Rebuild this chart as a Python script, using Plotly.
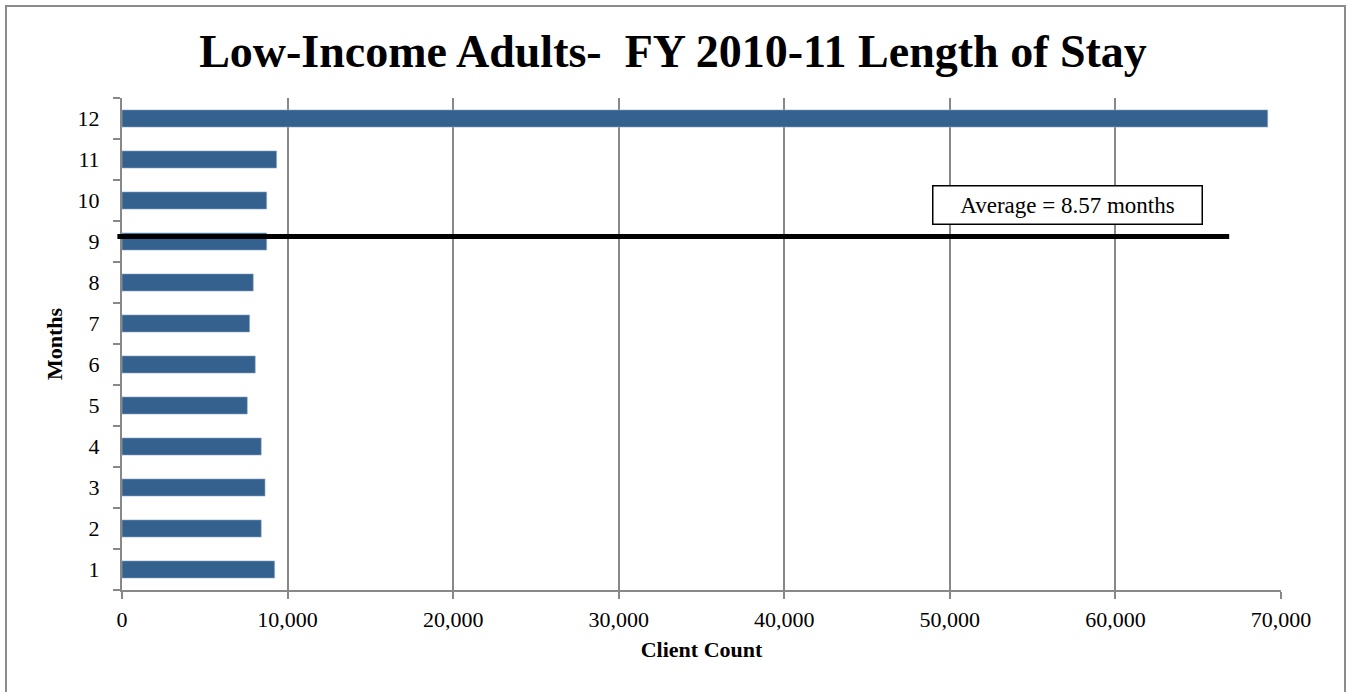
import plotly.graph_objects as go

# Months of stay and client counts
months = [1, 2, 3, 4, 5, 6, 7, 8, 9, 10, 11, 12]
client_counts = [9220, 8410, 8640, 8410, 7570, 8050, 7710, 7930, 8740, 8740, 9340, 69200]
x_ticks = [0, 10000, 20000, 30000, 40000, 50000, 60000, 70000]
x_tick_labels = ["0", "10,000", "20,000", "30,000", "40,000", "50,000", "60,000", "70,000"]
average_label = "Average = 8.57 months"

SERIF = "Liberation Serif, Times New Roman, serif"
GRAY = "#888888"
BAR = "#35618f"

fig = go.Figure(
    go.Bar(
        x=client_counts,
        y=months,
        orientation="h",
        width=0.42,
        marker=dict(color=BAR, line=dict(color="#9db3cf", width=0.6)),
        hoverinfo="x+y",
    )
)

fig.update_layout(
    width=1346,
    height=692,
    margin=dict(l=122, r=65, t=98, b=102),
    paper_bgcolor="white",
    plot_bgcolor="white",
    showlegend=False,
    title=dict(
        text="<b>Low-Income Adults-  FY 2010-11 Length of Stay</b>",
        x=0.5,
        xanchor="center",
        y=0.927,
        yanchor="middle",
        font=dict(family=SERIF, size=46, color="black"),
    ),
    xaxis=dict(
        range=[0, 70000],
        tickvals=x_ticks,
        ticktext=x_tick_labels,
        showgrid=True,
        gridcolor=GRAY,
        gridwidth=2,
        zeroline=False,
        showline=True,
        linecolor=GRAY,
        linewidth=2,
        ticks="outside",
        ticklen=7,
        tickwidth=2,
        tickcolor=GRAY,
        ticklabelstandoff=2,
        tickfont=dict(family=SERIF, size=22, color="black"),
        title=dict(text="<b>Client Count</b>", font=dict(family=SERIF, size=22, color="black"), standoff=10),
    ),
    yaxis=dict(
        range=[0.5, 12.5],
        tickvals=months,
        showgrid=False,
        zeroline=False,
        showline=True,
        linecolor=GRAY,
        linewidth=2,
        ticks="",
        ticklabelstandoff=16,
        minor=dict(ticks="outside", tick0=0.5, dtick=1, ticklen=7, tickwidth=2, tickcolor=GRAY, showgrid=False),
        tickfont=dict(family=SERIF, size=22, color="black"),
        title=dict(text="<b>Months</b>", font=dict(family=SERIF, size=22, color="black"), standoff=9),
    ),
)

# Average marker line across the chart
fig.add_shape(
    type="line",
    xref="paper", yref="y",
    x0=-0.004, x1=0.9553,
    y0=9.12, y1=9.12,
    line=dict(color="black", width=5),
)

# Average label box
fig.add_annotation(
    xref="paper", yref="y",
    x=0.8162, y=9.89,
    xanchor="center", yanchor="middle",
    text=average_label,
    showarrow=False,
    font=dict(family=SERIF, size=23, color="black"),
    bgcolor="white",
    bordercolor="black",
    borderwidth=1.5,
    borderpad=4,
    width=260,
    height=29,
)

# Outer chart border
fig.add_shape(
    type="rect",
    xref="paper", yref="paper",
    x0=-116 / 1159, x1=(1345 - 122) / 1159,
    y0=-130 / 492, y1=(590 - 6) / 492,
    line=dict(color="#8c8c8c", width=2),
    layer="below",
)

fig.write_html("out.html")
